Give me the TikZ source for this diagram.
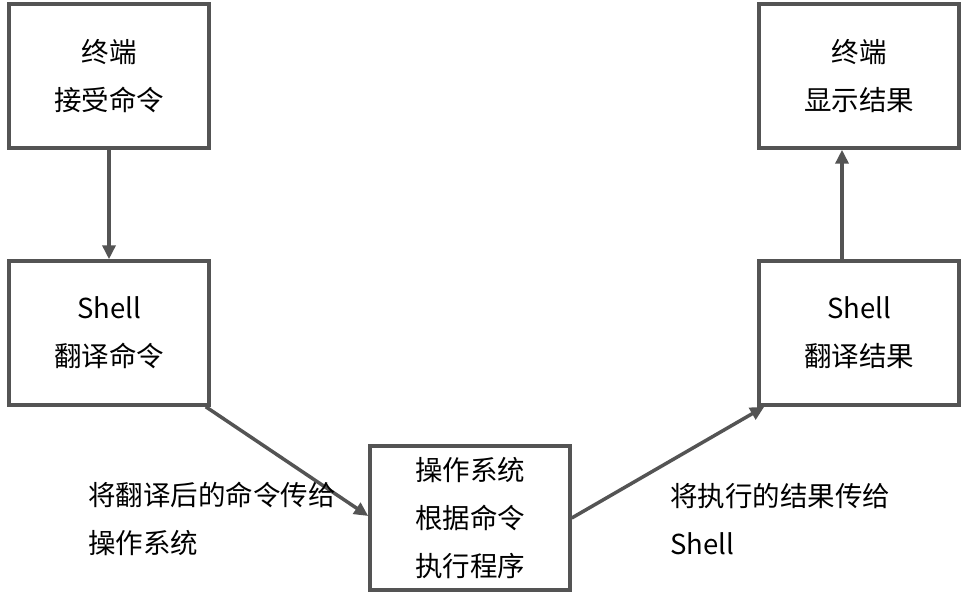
\documentclass[tikz,border=0pt]{standalone}
\usepackage{fontspec}
\setmainfont{Noto Sans CJK SC}
\usetikzlibrary{positioning,arrows.meta}

\begin{document}
\begin{tikzpicture}[
  x=1pt, y=-1pt,
  font=\fontsize{27.5}{48}\selectfont,
  blk/.style={draw=black!67, line width=3.5pt, align=center, inner sep=0pt,
              minimum width=200pt, minimum height=144pt},
  ar/.style={draw=black!67, line width=3.5pt, -{Triangle[length=14pt,width=13pt]}},
  lbl/.style={align=left, anchor=west, inner sep=0pt},
]
  \useasboundingbox (0,0) rectangle (968,596);

  \node[blk] (recv) at (109,76) {终端\\接受命令};
  \node[blk] (sh1) at (109,333) {Shell\\翻译命令};
  \node[blk] (os) at (470,518) {操作系统\\根据命令\\执行程序};
  \node[blk] (sh2) at (859,333) {Shell\\翻译结果};
  \node[blk] (show) at (859,76) {终端\\显示结果};

  \draw[ar] (recv) -- (sh1);
  \draw[ar] ([xshift=-5pt]sh1.south east) -- ([yshift=2pt]os.west);
  \draw[ar] (os.east) -- ([xshift=7pt]sh2.south west);
  \draw[ar] ([xshift=-17pt]sh2.north) -- ([xshift=-17pt]show.south);

  % labels
  \node[lbl] (l1) at (88,519) {将翻译后的命令传给\\操作系统};
  \node[lbl] (l2) at (670,519) {将执行的结果传给\\Shell};
\end{tikzpicture}
\end{document}
